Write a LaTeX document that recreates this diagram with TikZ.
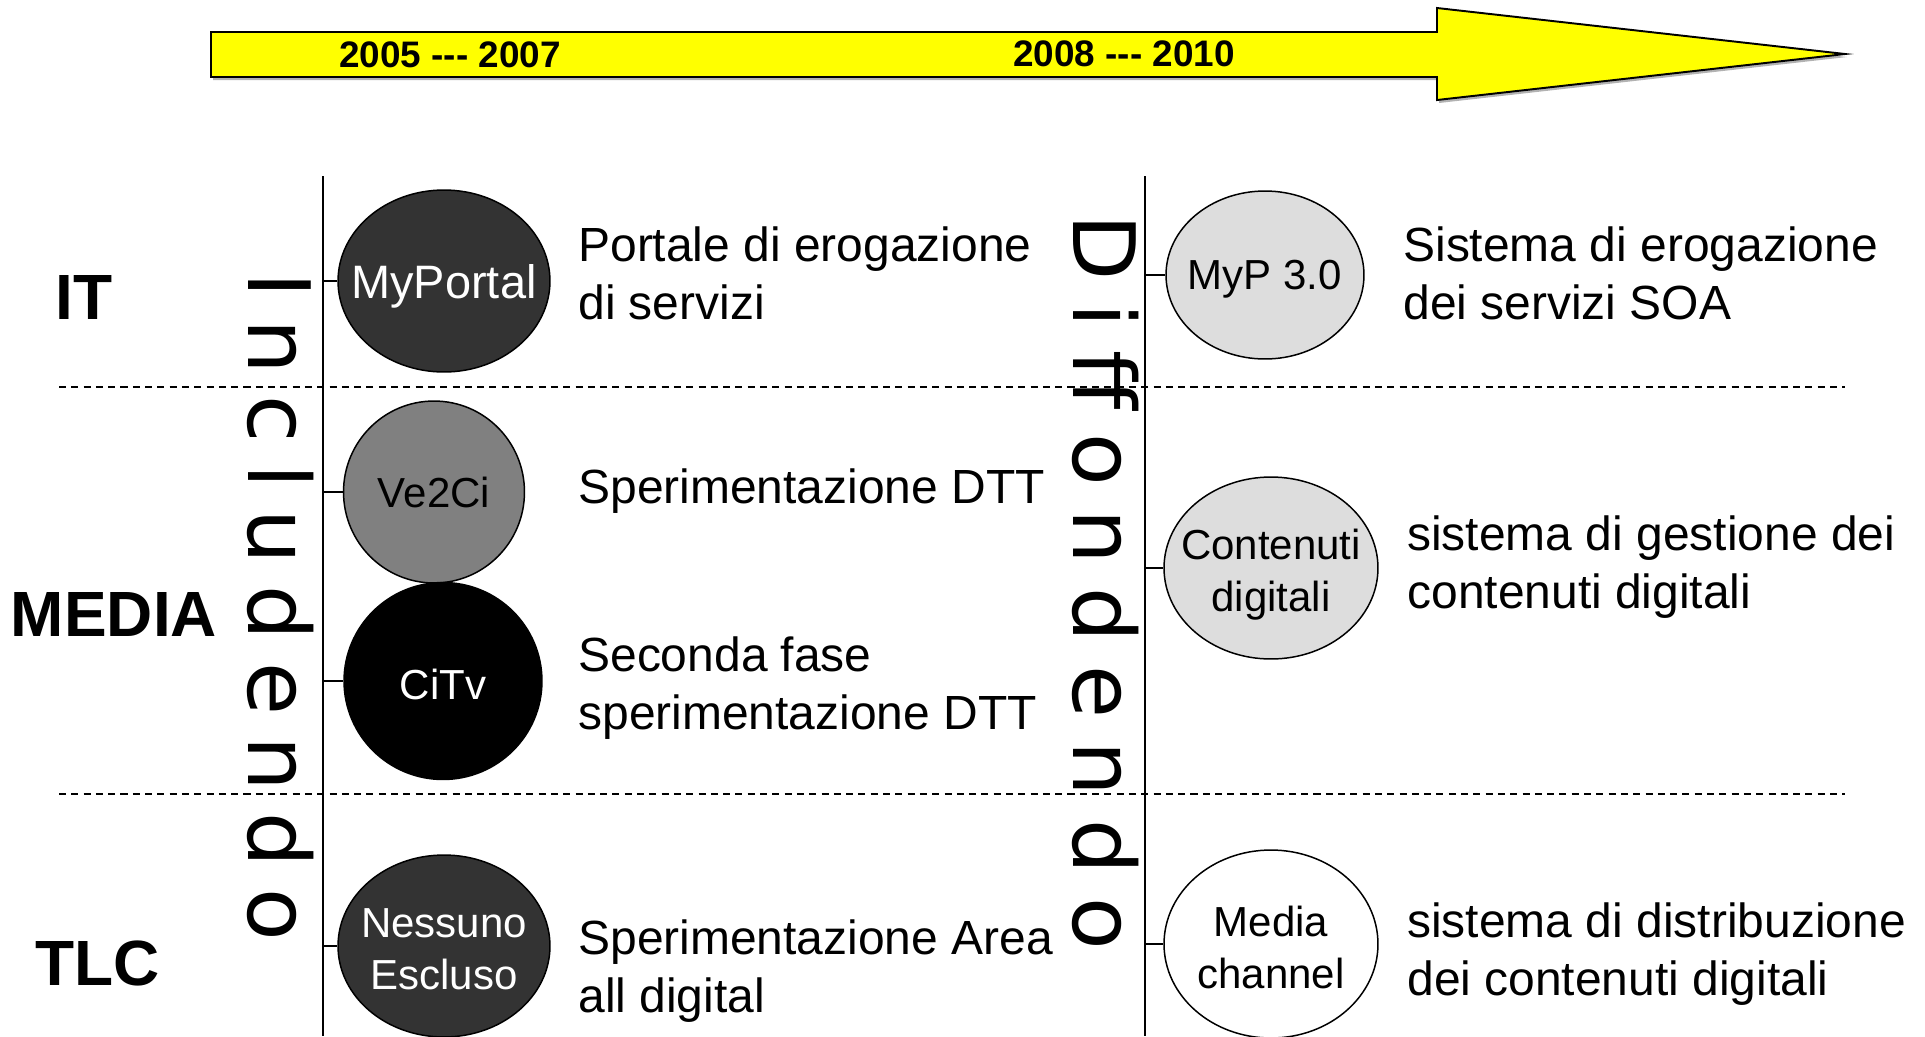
\documentclass[tikz,border=0pt]{standalone}
\usepackage{fontspec}
\setmainfont{Liberation Sans}
\newfontfamily\wordfont[LetterSpace=25]{DejaVu Sans}
\newfontfamily\widewordfont[LetterSpace=27]{DejaVu Sans}
\usepackage{tikz}
\usetikzlibrary{shapes.geometric}
\definecolor{timeline}{HTML}{FFFF00}
\definecolor{darkBall}{HTML}{333333}
\definecolor{midBall}{HTML}{808080}
\definecolor{lightBall}{HTML}{DDDDDD}

\begin{document}
\begin{tikzpicture}[
  x=0.02cm, y=-0.02cm,
  every node/.style={inner sep=0pt},
  ball/.style={draw, ellipse, line width=0.85pt},
  ball text/.style={align=center, yshift=-2pt, font=\fontsize{23.9}{29.6}\selectfont},
  descr/.style={anchor=west, align=left, font=\fontsize{27.3}{33}\selectfont},
  area/.style={font=\fontsize{36.4}{40}\selectfont\bfseries},
  years/.style={font=\fontsize{21}{24}\selectfont\bfseries},
  vword/.style={rotate=-90, anchor=base west, font=\fontsize{49}{55}\wordfont},
  axis/.style={line width=1.1pt},
  tick/.style={line width=0.75pt},
  rowsep/.style={line width=0.7pt, dash pattern=on 4pt off 3pt}
]
\useasboundingbox (0,0) rectangle (1925,1036);

% timeline arrow
\fill[gray!60] (213,35) -- (1439,35) -- (1439,11) -- (1847,57) -- (1439,103) -- (1439,80) -- (213,80) -- cycle;
\draw[line width=1.1pt, fill=timeline] (211,32) -- (1437,32) -- (1437,8) -- (1845,54) -- (1437,100) -- (1437,77) -- (211,77) -- cycle;
\node[years] (early) at (450,55) {2005 -\kern0pt-\kern0pt- 2007};
\node[years] (late) at (1124,54) {2008 -\kern0pt-\kern0pt- 2010};

% axes and row separators
\coordinate (inctop) at (323,176);
\coordinate (incbot) at (323,1036);
\coordinate (diftop) at (1145,176);
\coordinate (difbot) at (1145,1036);
\draw[axis] (inctop) -- (incbot);
\draw[axis] (diftop) -- (difbot);
\coordinate (sep1l) at (59,387);
\coordinate (sep1r) at (1845,387);
\coordinate (sep2l) at (59,794);
\coordinate (sep2r) at (1845,794);
\draw[rowsep] (sep1l) -- (sep1r);
\draw[rowsep] (sep2l) -- (sep2r);

% rows
\node[area] (it) at (84,297) {IT};
\node[area] (media) at (114,614) {MEDIA};
\node[area] (tlc) at (98,963) {TLC};

\node[vword] (includendo) at (248,272) {Includendo};
\node[vword, font=\fontsize{49}{55}\widewordfont] (diffondendo) at (1073,214) {Diffondendo};

% 2005 -- 2007
\node[ball, fill=darkBall, minimum width=4.24cm, minimum height=3.64cm,
  label={[ball text, text=white, yshift=-1pt, font=\fontsize{26.7}{31}\selectfont]center:MyPortal}] (myportal) at (444,281) {};
\node[ball, fill=midBall, minimum width=3.62cm, minimum height=3.64cm,
  label={[ball text, yshift=1.5pt]center:Ve2Ci}] (vecici) at (434,492) {};
\node[ball, fill=black, minimum width=3.96cm, minimum height=3.94cm,
  label={[ball text, text=white]center:CiTv}] (citv) at (443,681) {};
\node[ball, fill=darkBall, minimum width=4.24cm, minimum height=3.64cm,
  label={[ball text, text=white]center:Nessuno\\Escluso}] (nessuno) at (444,946) {};

\node[descr] (myportal desc) at (578,273) {Portale di erogazione\\di servizi};
\node[descr] (vecici desc) at (578,491) {Sperimentazione DTT};
\node[descr] (citv desc) at (578,688) {Seconda fase\\sperimentazione DTT};
\node[descr] (nessuno desc) at (578,971) {Sperimentazione Area\\all digital};

% 2008 -- 2010
\node[ball, fill=lightBall, minimum width=3.96cm, minimum height=3.36cm,
  label={[ball text, yshift=-0.5pt]center:MyP 3.0}] (myp) at (1265,275) {};
\node[ball, fill=lightBall, minimum width=4.28cm, minimum height=3.64cm,
  label={[ball text, yshift=-1.5pt]center:Contenuti\\digitali}] (contenuti) at (1271,568) {};
\node[ball, fill=white, minimum width=4.28cm, minimum height=3.76cm,
  label={[ball text]center:Media\\channel}] (mediach) at (1271,944) {};

\node[descr] (myp desc) at (1403,273) {Sistema di erogazione\\dei servizi SOA};
\node[descr] (contenuti desc) at (1407,567) {sistema di gestione dei\\contenuti digitali};
\node[descr] (mediach desc) at (1407,954) {sistema di distribuzione\\dei contenuti digitali};

% ticks
\foreach \b in {myportal,vecici,citv,nessuno}
  \draw[tick] (inctop |- \b.west) -- (\b.west);
\foreach \b in {myp,contenuti,mediach}
  \draw[tick] (diftop |- \b.west) -- (\b.west);
\end{tikzpicture}
\end{document}
